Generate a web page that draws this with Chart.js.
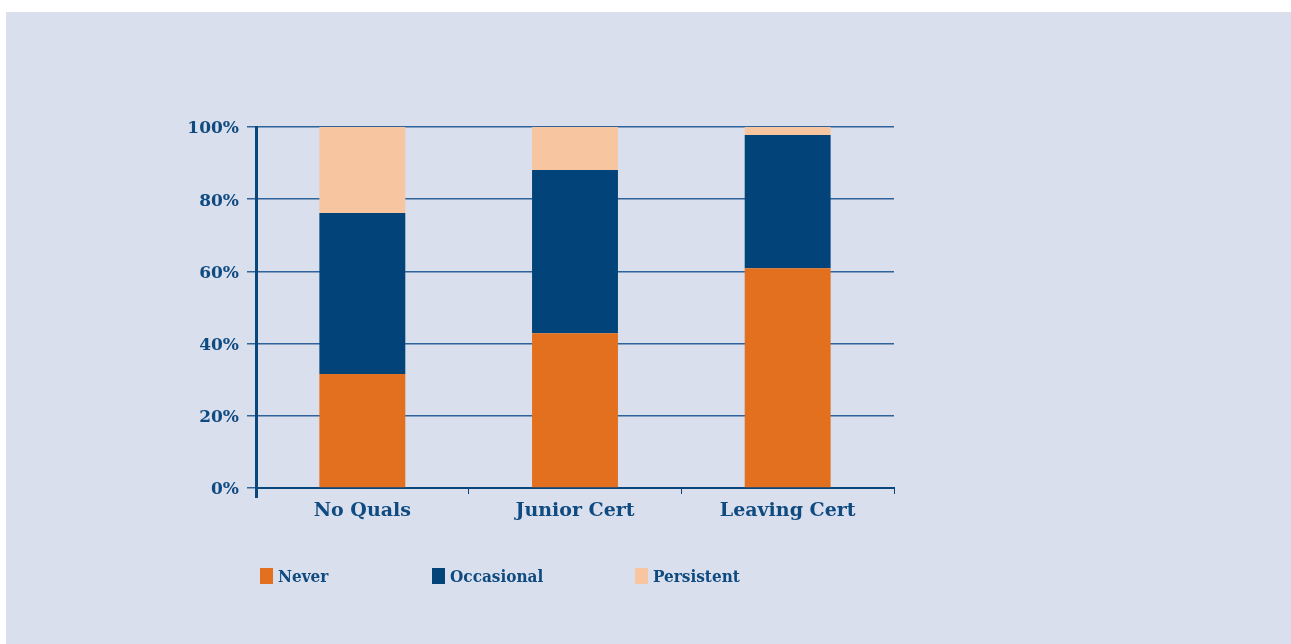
<!DOCTYPE html>
<html>
<head>
<meta charset="utf-8">
<script src="https://cdn.jsdelivr.net/npm/chart.js@4/dist/chart.umd.min.js"></script>
<style>
  html, body { margin: 0; padding: 0; background: #ffffff; }
  #panel { position: absolute; left: 6px; top: 12px; width: 1285px; height: 632px; background: #d9dfec; }
  #wrap { position: absolute; left: 0; top: 0; width: 1291px; height: 644px; }
  .legend { position: absolute; top: 566px; font: bold 17px "DejaVu Serif Condensed", "DejaVu Serif", serif; color: #0f4a80; line-height: 20px; }
  .legend span.sw { display: inline-block; width: 13px; height: 16px; vertical-align: -2px; margin-right: 5px; }
</style>
</head>
<body>
<div id="panel"></div>
<div id="wrap"><canvas id="chart" width="1291" height="644"></canvas></div>
<div class="legend" style="left:260px"><span class="sw" style="background:#e3701e"></span>Never</div>
<div class="legend" style="left:432px"><span class="sw" style="background:#02447a"></span>Occasional</div>
<div class="legend" style="left:635px"><span class="sw" style="background:#f7c6a0"></span>Persistent</div>
<script>
// Data
const categories = ["No Quals", "Junior Cert", "Leaving Cert"];
const never = [31.6, 42.9, 60.9];
const occasional = [44.6, 45.2, 36.9];
const persistent = [23.8, 11.9, 2.2];
const yTicks = [0, 20, 40, 60, 80, 100];

const TEXT = "#0f4a80";
const Y_FONT = { family: "'DejaVu Serif', serif", size: 17, weight: "bold" };
const X_FONT = { family: "'DejaVu Serif', serif", size: 19, weight: "bold" };

// small stub of the y axis that runs below the x axis
const axisStub = {
  id: "axisStub",
  afterDraw(chart) {
    const { ctx, chartArea } = chart;
    ctx.save();
    ctx.strokeStyle = "#0a467c";
    ctx.lineWidth = 3;
    ctx.beginPath();
    ctx.moveTo(chartArea.left + 0.5, chartArea.bottom);
    ctx.lineTo(chartArea.left + 0.5, chartArea.bottom + 10);
    ctx.stroke();
    ctx.restore();
  }
};

new Chart(document.getElementById("chart"), {
  type: "bar",
  data: {
    labels: categories,
    datasets: [
      { label: "Never", data: never, backgroundColor: "#e3701e" },
      { label: "Occasional", data: occasional, backgroundColor: "#02447a" },
      { label: "Persistent", data: persistent, backgroundColor: "#f7c6a0" }
    ]
  },
  options: {
    responsive: false,
    animation: false,
    layout: { padding: { left: 0, top: 127, right: 397, bottom: 116 } },
    datasets: { bar: { categoryPercentage: 1, barPercentage: 0.404 } },
    plugins: { legend: { display: false }, tooltip: { enabled: false } },
    scales: {
      x: {
        stacked: true,
        afterFit: (s) => { s.height = 40; },
        grid: { drawOnChartArea: false, color: "#0a467c", tickLength: 6, offset: true },
        border: { color: "#0a467c", width: 2 },
        ticks: { color: TEXT, font: X_FONT, padding: 6 }
      },
      y: {
        stacked: true,
        min: 0, max: 100,
        afterFit: (s) => { s.width = 256; },
        afterBuildTicks: (s) => { s.ticks = yTicks.map(v => ({ value: v })); },
        grid: { color: "#2f639a", lineWidth: 1.5, tickLength: 9 },
        border: { color: "#0a467c", width: 3 },
        ticks: { color: TEXT, font: Y_FONT, padding: 8, labelOffset: 2, callback: (v) => v + "%" }
      }
    }
  },
  plugins: [axisStub]
});
</script>
</body>
</html>
